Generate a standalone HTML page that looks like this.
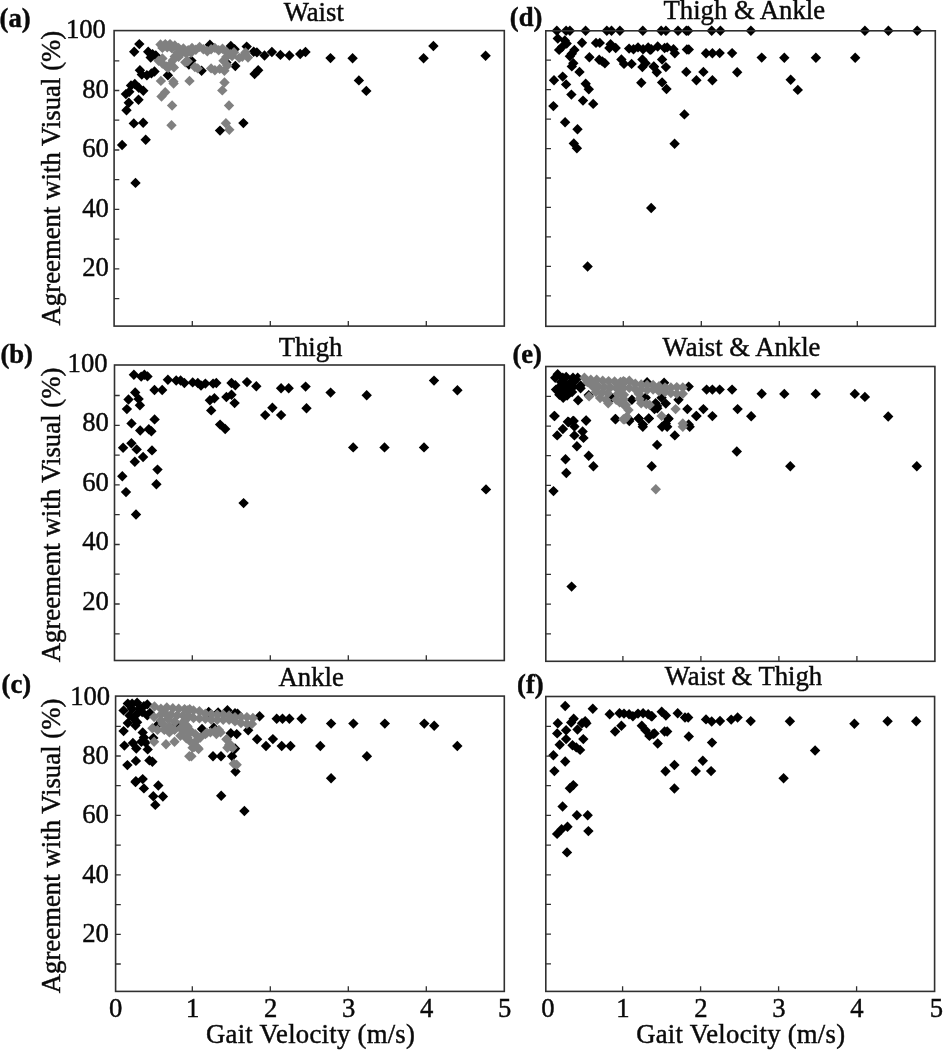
<!DOCTYPE html><html><head><meta charset="utf-8"><title>Agreement with Visual vs Gait Velocity</title>
<style>html,body{margin:0;padding:0;background:#fff}svg{display:block;filter:blur(0.45px)}text{font-family:"Liberation Serif",serif;font-size:26.67px;fill:#0a0a0a;stroke:#0a0a0a;stroke-width:0.45px}</style></head><body>
<svg width="943" height="1050" viewBox="0 0 943 1050">
<rect width="943" height="1050" fill="#fff"/>
<g id="panel-a">
<g><path d="M122.1 139.8L127.3 145.0L122.1 150.2L116.9 145.0z" fill="#000"/><path d="M145.7 134.5L150.9 139.7L145.7 144.9L140.5 139.7z" fill="#000"/><path d="M133.8 118.2L139.0 123.4L133.8 128.6L128.6 123.4z" fill="#000"/><path d="M143.2 117.6L148.4 122.8L143.2 128.0L138.0 122.8z" fill="#000"/><path d="M126.5 105.1L131.7 110.3L126.5 115.5L121.3 110.3z" fill="#000"/><path d="M128.8 97.6L134.0 102.8L128.8 108.0L123.6 102.8z" fill="#000"/><path d="M138.5 94.5L143.7 99.7L138.5 104.9L133.3 99.7z" fill="#000"/><path d="M125.9 88.9L131.1 94.1L125.9 99.3L120.7 94.1z" fill="#000"/><path d="M129.3 86.6L134.5 91.8L129.3 97.0L124.1 91.8z" fill="#000"/><path d="M131.0 80.3L136.2 85.5L131.0 90.7L125.8 85.5z" fill="#000"/><path d="M134.8 78.8L140.0 84.0L134.8 89.2L129.6 84.0z" fill="#000"/><path d="M138.8 82.6L144.0 87.8L138.8 93.0L133.6 87.8z" fill="#000"/><path d="M143.3 85.5L148.5 90.7L143.3 95.9L138.1 90.7z" fill="#000"/><path d="M139.9 65.0L145.1 70.2L139.9 75.4L134.7 70.2z" fill="#000"/><path d="M141.8 69.4L147.0 74.6L141.8 79.8L136.6 74.6z" fill="#000"/><path d="M146.9 70.1L152.1 75.3L146.9 80.5L141.7 75.3z" fill="#000"/><path d="M151.4 68.2L156.6 73.4L151.4 78.6L146.2 73.4z" fill="#000"/><path d="M154.5 66.3L159.7 71.5L154.5 76.7L149.3 71.5z" fill="#000"/><path d="M139.3 38.9L144.5 44.1L139.3 49.3L134.1 44.1z" fill="#000"/><path d="M134.2 46.5L139.4 51.7L134.2 56.9L129.0 51.7z" fill="#000"/><path d="M148.2 46.5L153.4 51.7L148.2 56.9L143.0 51.7z" fill="#000"/><path d="M152.6 49.1L157.8 54.3L152.6 59.5L147.4 54.3z" fill="#000"/><path d="M150.7 52.3L155.9 57.5L150.7 62.7L145.5 57.5z" fill="#000"/><path d="M155.8 50.3L161.0 55.5L155.8 60.7L150.6 55.5z" fill="#000"/><path d="M167.9 70.1L173.1 75.3L167.9 80.5L162.7 75.3z" fill="#000"/><path d="M191.4 55.4L196.6 60.6L191.4 65.8L186.2 60.6z" fill="#000"/><path d="M188.9 59.3L194.1 64.5L188.9 69.7L183.7 64.5z" fill="#000"/><path d="M201.6 65.6L206.8 70.8L201.6 76.0L196.4 70.8z" fill="#000"/><path d="M209.9 39.5L215.1 44.7L209.9 49.9L204.7 44.7z" fill="#000"/><path d="M230.8 40.8L236.0 46.0L230.8 51.2L225.6 46.0z" fill="#000"/><path d="M234.6 44.0L239.8 49.2L234.6 54.4L229.4 49.2z" fill="#000"/><path d="M246.7 41.4L251.9 46.6L246.7 51.8L241.5 46.6z" fill="#000"/><path d="M253.7 46.5L258.9 51.7L253.7 56.9L248.5 51.7z" fill="#000"/><path d="M256.9 47.2L262.1 52.4L256.9 57.6L251.7 52.4z" fill="#000"/><path d="M264.5 50.3L269.7 55.5L264.5 60.7L259.3 55.5z" fill="#000"/><path d="M271.9 46.8L277.1 52.0L271.9 57.2L266.7 52.0z" fill="#000"/><path d="M280.4 49.7L285.6 54.9L280.4 60.1L275.2 54.9z" fill="#000"/><path d="M289.4 50.3L294.6 55.5L289.4 60.7L284.2 55.5z" fill="#000"/><path d="M300.2 48.8L305.4 54.0L300.2 59.2L295.0 54.0z" fill="#000"/><path d="M305.5 46.8L310.7 52.0L305.5 57.2L300.3 52.0z" fill="#000"/><path d="M330.5 52.9L335.7 58.1L330.5 63.3L325.3 58.1z" fill="#000"/><path d="M235.3 60.8L240.5 66.0L235.3 71.2L230.1 66.0z" fill="#000"/><path d="M258.2 65.0L263.4 70.2L258.2 75.4L253.0 70.2z" fill="#000"/><path d="M254.6 68.8L259.8 74.0L254.6 79.2L249.4 74.0z" fill="#000"/><path d="M226.4 57.3L231.6 62.5L226.4 67.7L221.2 62.5z" fill="#000"/><path d="M135.5 177.7L140.7 182.9L135.5 188.1L130.3 182.9z" fill="#000"/><path d="M220.0 125.4L225.2 130.6L220.0 135.8L214.8 130.6z" fill="#000"/><path d="M243.4 117.9L248.6 123.1L243.4 128.3L238.2 123.1z" fill="#000"/><path d="M352.6 53.0L357.8 58.2L352.6 63.4L347.4 58.2z" fill="#000"/><path d="M358.9 75.2L364.1 80.4L358.9 85.6L353.7 80.4z" fill="#000"/><path d="M366.3 85.7L371.5 90.9L366.3 96.1L361.1 90.9z" fill="#000"/><path d="M423.6 53.0L428.8 58.2L423.6 63.4L418.4 58.2z" fill="#000"/><path d="M433.4 40.8L438.6 46.0L433.4 51.2L428.2 46.0z" fill="#000"/><path d="M485.6 50.6L490.8 55.8L485.6 61.0L480.4 55.8z" fill="#000"/></g>
<g><path d="M160.9 75.7L166.1 80.9L160.9 86.1L155.7 80.9z" fill="#808080"/><path d="M173.3 76.3L178.5 81.5L173.3 86.7L168.1 81.5z" fill="#808080"/><path d="M173.6 78.3L178.8 83.5L173.6 88.7L168.4 83.5z" fill="#808080"/><path d="M189.5 75.7L194.7 80.9L189.5 86.1L184.3 80.9z" fill="#808080"/><path d="M224.5 77.3L229.7 82.5L224.5 87.7L219.3 82.5z" fill="#808080"/><path d="M222.3 85.2L227.5 90.4L222.3 95.6L217.1 90.4z" fill="#808080"/><path d="M165.2 87.1L170.4 92.3L165.2 97.5L160.0 92.3z" fill="#808080"/><path d="M161.5 91.3L166.7 96.5L161.5 101.7L156.3 96.5z" fill="#808080"/><path d="M172.1 100.3L177.3 105.5L172.1 110.7L166.9 105.5z" fill="#808080"/><path d="M229.0 100.3L234.2 105.5L229.0 110.7L223.8 105.5z" fill="#808080"/><path d="M171.5 120.0L176.7 125.2L171.5 130.4L166.3 125.2z" fill="#808080"/><path d="M225.9 118.0L231.1 123.2L225.9 128.4L220.7 123.2z" fill="#808080"/><path d="M229.3 124.6L234.5 129.8L229.3 135.0L224.1 129.8z" fill="#808080"/><path d="M242.3 51.6L247.5 56.8L242.3 62.0L237.1 56.8z" fill="#808080"/><path d="M245.5 47.2L250.7 52.4L245.5 57.6L240.3 52.4z" fill="#808080"/><path d="M248.0 52.3L253.2 57.5L248.0 62.7L242.8 57.5z" fill="#808080"/><path d="M160.5 39.3L165.7 44.5L160.5 49.7L155.3 44.5z" fill="#808080"/><path d="M165.3 38.9L170.5 44.1L165.3 49.3L160.1 44.1z" fill="#808080"/><path d="M170.0 38.9L175.2 44.1L170.0 49.3L164.8 44.1z" fill="#808080"/><path d="M174.8 40.3L180.0 45.5L174.8 50.7L169.6 45.5z" fill="#808080"/><path d="M178.6 42.7L183.8 47.9L178.6 53.1L173.4 47.9z" fill="#808080"/><path d="M177.7 47.5L182.9 52.7L177.7 57.9L172.5 52.7z" fill="#808080"/><path d="M174.8 51.3L180.0 56.5L174.8 61.7L169.6 56.5z" fill="#808080"/><path d="M172.9 55.1L178.1 60.3L172.9 65.5L167.7 60.3z" fill="#808080"/><path d="M170.5 58.9L175.7 64.1L170.5 69.3L165.3 64.1z" fill="#808080"/><path d="M168.1 62.7L173.3 67.9L168.1 73.1L162.9 67.9z" fill="#808080"/><path d="M173.9 62.2L179.1 67.4L173.9 72.6L168.7 67.4z" fill="#808080"/><path d="M158.6 55.6L163.8 60.8L158.6 66.0L153.4 60.8z" fill="#808080"/><path d="M162.4 53.2L167.6 58.4L162.4 63.6L157.2 58.4z" fill="#808080"/><path d="M162.4 58.4L167.6 63.6L162.4 68.8L157.2 63.6z" fill="#808080"/><path d="M166.2 61.3L171.4 66.5L166.2 71.7L161.0 66.5z" fill="#808080"/><path d="M178.6 51.7L183.8 56.9L178.6 62.1L173.4 56.9z" fill="#808080"/><path d="M183.4 43.2L188.6 48.4L183.4 53.6L178.2 48.4z" fill="#808080"/><path d="M188.2 45.1L193.4 50.3L188.2 55.5L183.0 50.3z" fill="#808080"/><path d="M192.0 42.7L197.2 47.9L192.0 53.1L186.8 47.9z" fill="#808080"/><path d="M195.8 44.6L201.0 49.8L195.8 55.0L190.6 49.8z" fill="#808080"/><path d="M199.6 41.7L204.8 46.9L199.6 52.1L194.4 46.9z" fill="#808080"/><path d="M203.4 44.1L208.6 49.3L203.4 54.5L198.2 49.3z" fill="#808080"/><path d="M207.3 46.0L212.5 51.2L207.3 56.4L202.1 51.2z" fill="#808080"/><path d="M211.1 44.1L216.3 49.3L211.1 54.5L205.9 49.3z" fill="#808080"/><path d="M214.9 42.7L220.1 47.9L214.9 53.1L209.7 47.9z" fill="#808080"/><path d="M218.7 45.1L223.9 50.3L218.7 55.5L213.5 50.3z" fill="#808080"/><path d="M222.5 43.6L227.7 48.8L222.5 54.0L217.3 48.8z" fill="#808080"/><path d="M226.3 46.5L231.5 51.7L226.3 56.9L221.1 51.7z" fill="#808080"/><path d="M230.2 48.9L235.4 54.1L230.2 59.3L225.0 54.1z" fill="#808080"/><path d="M234.0 47.0L239.2 52.2L234.0 57.4L228.8 52.2z" fill="#808080"/><path d="M182.4 47.0L187.6 52.2L182.4 57.4L177.2 52.2z" fill="#808080"/><path d="M186.3 48.4L191.5 53.6L186.3 58.8L181.1 53.6z" fill="#808080"/><path d="M191.0 47.5L196.2 52.7L191.0 57.9L185.8 52.7z" fill="#808080"/><path d="M226.3 51.7L231.5 56.9L226.3 62.1L221.1 56.9z" fill="#808080"/><path d="M232.1 50.8L237.3 56.0L232.1 61.2L226.9 56.0z" fill="#808080"/><path d="M185.3 57.0L190.5 62.2L185.3 67.4L180.1 62.2z" fill="#808080"/><path d="M194.8 61.8L200.0 67.0L194.8 72.2L189.6 67.0z" fill="#808080"/><path d="M197.7 63.2L202.9 68.4L197.7 73.6L192.5 68.4z" fill="#808080"/><path d="M211.1 63.2L216.3 68.4L211.1 73.6L205.9 68.4z" fill="#808080"/><path d="M214.9 65.1L220.1 70.3L214.9 75.5L209.7 70.3z" fill="#808080"/><path d="M219.7 63.7L224.9 68.9L219.7 74.1L214.5 68.9z" fill="#808080"/><path d="M224.4 65.6L229.6 70.8L224.4 76.0L219.2 70.8z" fill="#808080"/><path d="M227.3 60.3L232.5 65.5L227.3 70.7L222.1 65.5z" fill="#808080"/><path d="M239.2 52.7L244.4 57.9L239.2 63.1L234.0 57.9z" fill="#808080"/><path d="M162.4 42.7L167.6 47.9L162.4 53.1L157.2 47.9z" fill="#808080"/><path d="M167.2 42.2L172.4 47.4L167.2 52.6L162.0 47.4z" fill="#808080"/><path d="M171.9 43.2L177.1 48.4L171.9 53.6L166.7 48.4z" fill="#808080"/><path d="M187.7 56.0L192.9 61.2L187.7 66.4L182.5 61.2z" fill="#808080"/><path d="M223.5 55.6L228.7 60.8L223.5 66.0L218.3 60.8z" fill="#808080"/></g>
<rect x="114.1" y="30.6" width="390.2" height="295.5" fill="none" stroke="#303030" stroke-width="1.6"/>
<path d="M114.1 60.8h5.2M114.1 90.5h5.2M114.1 120.2h5.2M114.1 150.0h5.2M114.1 179.7h5.2M114.1 209.4h5.2M114.1 239.2h5.2M114.1 268.9h5.2M114.1 298.7h5.2M192.3 326.1v-5.2M270.3 326.1v-5.2M348.3 326.1v-5.2M426.3 326.1v-5.2" stroke="#303030" stroke-width="1.3" fill="none"/>
<text x="313.8" y="21.4" text-anchor="middle">Waist</text>
<text x="-0.5" y="26.7" font-weight="bold">(a)</text>
<text x="105.9" y="38.3" text-anchor="end">100</text>
<text x="108.8" y="97.8" text-anchor="end">80</text>
<text x="108.8" y="157.3" text-anchor="end">60</text>
<text x="108.8" y="216.8" text-anchor="end">40</text>
<text x="108.8" y="276.2" text-anchor="end">20</text>
<text transform="translate(59.6 178.1) rotate(-90)" text-anchor="middle" letter-spacing="0.06">Agreement with Visual (%)</text>
</g>
<g id="panel-b">
<g><path d="M133.9 369.5L139.1 374.7L133.9 379.9L128.7 374.7z" fill="#000"/><path d="M141.2 371.4L146.4 376.6L141.2 381.8L136.0 376.6z" fill="#000"/><path d="M144.4 369.5L149.6 374.7L144.4 379.9L139.2 374.7z" fill="#000"/><path d="M147.5 371.2L152.7 376.4L147.5 381.6L142.3 376.4z" fill="#000"/><path d="M167.9 374.6L173.1 379.8L167.9 385.0L162.7 379.8z" fill="#000"/><path d="M176.2 375.3L181.4 380.5L176.2 385.7L171.0 380.5z" fill="#000"/><path d="M180.6 375.3L185.8 380.5L180.6 385.7L175.4 380.5z" fill="#000"/><path d="M184.4 377.8L189.6 383.0L184.4 388.2L179.2 383.0z" fill="#000"/><path d="M192.7 377.2L197.9 382.4L192.7 387.6L187.5 382.4z" fill="#000"/><path d="M197.8 377.8L203.0 383.0L197.8 388.2L192.6 383.0z" fill="#000"/><path d="M201.0 380.3L206.2 385.5L201.0 390.7L195.8 385.5z" fill="#000"/><path d="M205.4 378.4L210.6 383.6L205.4 388.8L200.2 383.6z" fill="#000"/><path d="M213.1 378.4L218.3 383.6L213.1 388.8L207.9 383.6z" fill="#000"/><path d="M216.3 377.8L221.5 383.0L216.3 388.2L211.1 383.0z" fill="#000"/><path d="M154.5 384.8L159.7 390.0L154.5 395.2L149.3 390.0z" fill="#000"/><path d="M162.2 384.8L167.4 390.0L162.2 395.2L157.0 390.0z" fill="#000"/><path d="M135.2 387.3L140.4 392.5L135.2 397.7L130.0 392.5z" fill="#000"/><path d="M128.5 394.3L133.7 399.5L128.5 404.7L123.3 399.5z" fill="#000"/><path d="M138.6 393.7L143.8 398.9L138.6 404.1L133.4 398.9z" fill="#000"/><path d="M139.9 400.1L145.1 405.3L139.9 410.5L134.7 405.3z" fill="#000"/><path d="M126.9 403.9L132.1 409.1L126.9 414.3L121.7 409.1z" fill="#000"/><path d="M154.6 414.2L159.8 419.4L154.6 424.6L149.4 419.4z" fill="#000"/><path d="M131.5 418.2L136.7 423.4L131.5 428.6L126.3 423.4z" fill="#000"/><path d="M214.4 393.1L219.6 398.3L214.4 403.5L209.2 398.3z" fill="#000"/><path d="M209.9 395.0L215.1 400.2L209.9 405.4L204.7 400.2z" fill="#000"/><path d="M211.2 405.2L216.4 410.4L211.2 415.6L206.0 410.4z" fill="#000"/><path d="M226.4 391.8L231.6 397.0L226.4 402.2L221.2 397.0z" fill="#000"/><path d="M220.1 419.4L225.3 424.6L220.1 429.8L214.9 424.6z" fill="#000"/><path d="M140.2 425.3L145.4 430.5L140.2 435.7L135.0 430.5z" fill="#000"/><path d="M148.8 424.1L154.0 429.3L148.8 434.5L143.6 429.3z" fill="#000"/><path d="M151.4 426.1L156.6 431.3L151.4 436.5L146.2 431.3z" fill="#000"/><path d="M131.4 438.1L136.6 443.3L131.4 448.5L126.2 443.3z" fill="#000"/><path d="M123.1 442.6L128.3 447.8L123.1 453.0L117.9 447.8z" fill="#000"/><path d="M136.7 444.2L141.9 449.4L136.7 454.6L131.5 449.4z" fill="#000"/><path d="M152.0 445.2L157.2 450.4L152.0 455.6L146.8 450.4z" fill="#000"/><path d="M143.1 451.8L148.3 457.0L143.1 462.2L137.9 457.0z" fill="#000"/><path d="M134.8 456.6L140.0 461.8L134.8 467.0L129.6 461.8z" fill="#000"/><path d="M157.5 464.4L162.7 469.6L157.5 474.8L152.3 469.6z" fill="#000"/><path d="M122.3 471.1L127.5 476.3L122.3 481.5L117.1 476.3z" fill="#000"/><path d="M156.4 479.1L161.6 484.3L156.4 489.5L151.2 484.3z" fill="#000"/><path d="M225.2 423.8L230.4 429.0L225.2 434.2L220.0 429.0z" fill="#000"/><path d="M126.0 486.9L131.2 492.1L126.0 497.3L120.8 492.1z" fill="#000"/><path d="M136.0 509.3L141.2 514.5L136.0 519.7L130.8 514.5z" fill="#000"/><path d="M243.6 497.9L248.8 503.1L243.6 508.3L238.4 503.1z" fill="#000"/><path d="M231.5 377.8L236.7 383.0L231.5 388.2L226.3 383.0z" fill="#000"/><path d="M235.3 380.1L240.5 385.3L235.3 390.5L230.1 385.3z" fill="#000"/><path d="M247.0 376.9L252.2 382.1L247.0 387.3L241.8 382.1z" fill="#000"/><path d="M256.3 381.0L261.5 386.2L256.3 391.4L251.1 386.2z" fill="#000"/><path d="M281.1 383.1L286.3 388.3L281.1 393.5L275.9 388.3z" fill="#000"/><path d="M288.7 383.1L293.9 388.3L288.7 393.5L283.5 388.3z" fill="#000"/><path d="M305.6 381.4L310.8 386.6L305.6 391.8L300.4 386.6z" fill="#000"/><path d="M330.6 387.4L335.8 392.6L330.6 397.8L325.4 392.6z" fill="#000"/><path d="M231.5 389.5L236.7 394.7L231.5 399.9L226.3 394.7z" fill="#000"/><path d="M234.6 397.9L239.8 403.1L234.6 408.3L229.4 403.1z" fill="#000"/><path d="M272.4 402.6L277.6 407.8L272.4 413.0L267.2 407.8z" fill="#000"/><path d="M265.2 409.9L270.4 415.1L265.2 420.3L260.0 415.1z" fill="#000"/><path d="M281.1 409.9L286.3 415.1L281.1 420.3L275.9 415.1z" fill="#000"/><path d="M306.5 403.0L311.7 408.2L306.5 413.4L301.3 408.2z" fill="#000"/><path d="M366.7 390.1L371.9 395.3L366.7 400.5L361.5 395.3z" fill="#000"/><path d="M434.0 375.4L439.2 380.6L434.0 385.8L428.8 380.6z" fill="#000"/><path d="M457.4 385.1L462.6 390.3L457.4 395.5L452.2 390.3z" fill="#000"/><path d="M353.2 442.2L358.4 447.4L353.2 452.6L348.0 447.4z" fill="#000"/><path d="M384.5 442.2L389.7 447.4L384.5 452.6L379.3 447.4z" fill="#000"/><path d="M424.0 442.2L429.2 447.4L424.0 452.6L418.8 447.4z" fill="#000"/><path d="M486.0 484.2L491.2 489.4L486.0 494.6L480.8 489.4z" fill="#000"/></g>
<rect x="114.5" y="365.0" width="389.8" height="295.5" fill="none" stroke="#303030" stroke-width="1.6"/>
<path d="M114.5 395.5h5.2M114.5 425.3h5.2M114.5 455.1h5.2M114.5 484.9h5.2M114.5 514.7h5.2M114.5 544.5h5.2M114.5 574.2h5.2M114.5 604.0h5.2M114.5 633.8h5.2M192.3 660.5v-5.2M270.3 660.5v-5.2M348.3 660.5v-5.2M426.3 660.5v-5.2" stroke="#303030" stroke-width="1.3" fill="none"/>
<text x="310.5" y="356.1" text-anchor="middle">Thigh</text>
<text x="0.4" y="362.6" font-weight="bold">(b)</text>
<text x="107.6" y="371.5" text-anchor="end">100</text>
<text x="108.8" y="431.0" text-anchor="end">80</text>
<text x="108.8" y="490.6" text-anchor="end">60</text>
<text x="108.8" y="550.2" text-anchor="end">40</text>
<text x="108.8" y="609.8" text-anchor="end">20</text>
<text transform="translate(59.6 514.9) rotate(-90)" text-anchor="middle" letter-spacing="0.06">Agreement with Visual (%)</text>
</g>
<g id="panel-c">
<g><path d="M127.8 698.4L133.0 703.6L127.8 708.8L122.6 703.6z" fill="#000"/><path d="M137.1 697.5L142.3 702.7L137.1 707.9L131.9 702.7z" fill="#000"/><path d="M123.6 705.2L128.8 710.4L123.6 715.6L118.4 710.4z" fill="#000"/><path d="M132.1 703.5L137.3 708.7L132.1 713.9L126.9 708.7z" fill="#000"/><path d="M139.7 703.5L144.9 708.7L139.7 713.9L134.5 708.7z" fill="#000"/><path d="M143.9 700.9L149.1 706.1L143.9 711.3L138.7 706.1z" fill="#000"/><path d="M147.3 699.2L152.5 704.4L147.3 709.6L142.1 704.4z" fill="#000"/><path d="M129.5 710.2L134.7 715.4L129.5 720.6L124.3 715.4z" fill="#000"/><path d="M137.1 708.5L142.3 713.7L137.1 718.9L131.9 713.7z" fill="#000"/><path d="M147.3 710.2L152.5 715.4L147.3 720.6L142.1 715.4z" fill="#000"/><path d="M149.9 707.7L155.1 712.9L149.9 718.1L144.7 712.9z" fill="#000"/><path d="M127.8 717.9L133.0 723.1L127.8 728.3L122.6 723.1z" fill="#000"/><path d="M135.4 720.4L140.6 725.6L135.4 730.8L130.2 725.6z" fill="#000"/><path d="M137.1 717.0L142.3 722.2L137.1 727.4L131.9 722.2z" fill="#000"/><path d="M123.6 725.9L128.8 731.1L123.6 736.3L118.4 731.1z" fill="#000"/><path d="M157.9 719.6L163.1 724.8L157.9 730.0L152.7 724.8z" fill="#000"/><path d="M176.6 719.6L181.8 724.8L176.6 730.0L171.4 724.8z" fill="#000"/><path d="M142.7 727.2L147.9 732.4L142.7 737.6L137.5 732.4z" fill="#000"/><path d="M143.9 732.3L149.1 737.5L143.9 742.7L138.7 737.5z" fill="#000"/><path d="M153.3 732.7L158.5 737.9L153.3 743.1L148.1 737.9z" fill="#000"/><path d="M132.9 737.8L138.1 743.0L132.9 748.2L127.7 743.0z" fill="#000"/><path d="M141.4 736.5L146.6 741.7L141.4 746.9L136.2 741.7z" fill="#000"/><path d="M145.6 737.4L150.8 742.6L145.6 747.8L140.4 742.6z" fill="#000"/><path d="M124.4 740.4L129.6 745.6L124.4 750.8L119.2 745.6z" fill="#000"/><path d="M136.3 743.3L141.5 748.5L136.3 753.7L131.1 748.5z" fill="#000"/><path d="M147.7 744.2L152.9 749.4L147.7 754.6L142.5 749.4z" fill="#000"/><path d="M132.1 698.4L137.3 703.6L132.1 708.8L126.9 703.6z" fill="#000"/><path d="M142.2 706.9L147.4 712.1L142.2 717.3L137.0 712.1z" fill="#000"/><path d="M133.7 713.6L138.9 718.8L133.7 724.0L128.5 718.8z" fill="#000"/><path d="M208.7 706.8L213.9 712.0L208.7 717.2L203.5 712.0z" fill="#000"/><path d="M218.1 707.2L223.3 712.4L218.1 717.6L212.9 712.4z" fill="#000"/><path d="M227.4 705.1L232.6 710.3L227.4 715.5L222.2 710.3z" fill="#000"/><path d="M235.0 708.0L240.2 713.2L235.0 718.4L229.8 713.2z" fill="#000"/><path d="M237.6 708.5L242.8 713.7L237.6 718.9L232.4 713.7z" fill="#000"/><path d="M259.6 711.1L264.8 716.3L259.6 721.5L254.4 716.3z" fill="#000"/><path d="M202.0 723.8L207.2 729.0L202.0 734.2L196.8 729.0z" fill="#000"/><path d="M213.8 722.5L219.0 727.7L213.8 732.9L208.6 727.7z" fill="#000"/><path d="M230.8 728.1L236.0 733.3L230.8 738.5L225.6 733.3z" fill="#000"/><path d="M236.7 728.9L241.9 734.1L236.7 739.3L231.5 734.1z" fill="#000"/><path d="M248.2 725.1L253.4 730.3L248.2 735.5L243.0 730.3z" fill="#000"/><path d="M257.1 734.0L262.3 739.2L257.1 744.4L251.9 739.2z" fill="#000"/><path d="M235.0 743.3L240.2 748.5L235.0 753.7L229.8 748.5z" fill="#000"/><path d="M135.9 755.7L141.1 760.9L135.9 766.1L130.7 760.9z" fill="#000"/><path d="M127.4 759.9L132.6 765.1L127.4 770.3L122.2 765.1z" fill="#000"/><path d="M149.4 755.2L154.6 760.4L149.4 765.6L144.2 760.4z" fill="#000"/><path d="M152.4 756.5L157.6 761.7L152.4 766.9L147.2 761.7z" fill="#000"/><path d="M135.9 776.0L141.1 781.2L135.9 786.4L130.7 781.2z" fill="#000"/><path d="M142.7 773.9L147.9 779.1L142.7 784.3L137.5 779.1z" fill="#000"/><path d="M143.9 783.2L149.1 788.4L143.9 793.6L138.7 788.4z" fill="#000"/><path d="M158.3 780.3L163.5 785.5L158.3 790.7L153.1 785.5z" fill="#000"/><path d="M153.3 791.1L158.5 796.3L153.3 801.5L148.1 796.3z" fill="#000"/><path d="M213.0 751.0L218.2 756.2L213.0 761.4L207.8 756.2z" fill="#000"/><path d="M221.0 751.0L226.2 756.2L221.0 761.4L215.8 756.2z" fill="#000"/><path d="M232.1 751.0L237.3 756.2L232.1 761.4L226.9 756.2z" fill="#000"/><path d="M234.2 744.2L239.4 749.4L234.2 754.6L229.0 749.4z" fill="#000"/><path d="M235.5 766.3L240.7 771.5L235.5 776.7L230.3 771.5z" fill="#000"/><path d="M221.2 790.6L226.4 795.8L221.2 801.0L216.0 795.8z" fill="#000"/><path d="M135.5 776.8L140.7 782.0L135.5 787.2L130.3 782.0z" fill="#000"/><path d="M155.3 799.7L160.5 804.9L155.3 810.1L150.1 804.9z" fill="#000"/><path d="M162.9 791.3L168.1 796.5L162.9 801.7L157.7 796.5z" fill="#000"/><path d="M244.4 805.8L249.6 811.0L244.4 816.2L239.2 811.0z" fill="#000"/><path d="M276.7 713.5L281.9 718.7L276.7 723.9L271.5 718.7z" fill="#000"/><path d="M282.5 713.5L287.7 718.7L282.5 723.9L277.3 718.7z" fill="#000"/><path d="M289.4 713.5L294.6 718.7L289.4 723.9L284.2 718.7z" fill="#000"/><path d="M301.6 713.5L306.8 718.7L301.6 723.9L296.4 718.7z" fill="#000"/><path d="M331.1 718.4L336.3 723.6L331.1 728.8L325.9 723.6z" fill="#000"/><path d="M353.4 718.4L358.6 723.6L353.4 728.8L348.2 723.6z" fill="#000"/><path d="M384.8 718.4L390.0 723.6L384.8 728.8L379.6 723.6z" fill="#000"/><path d="M424.3 718.4L429.5 723.6L424.3 728.8L419.1 723.6z" fill="#000"/><path d="M434.2 720.6L439.4 725.8L434.2 731.0L429.0 725.8z" fill="#000"/><path d="M457.3 740.8L462.5 746.0L457.3 751.2L452.1 746.0z" fill="#000"/><path d="M266.0 740.8L271.2 746.0L266.0 751.2L260.8 746.0z" fill="#000"/><path d="M272.9 733.9L278.1 739.1L272.9 744.3L267.7 739.1z" fill="#000"/><path d="M281.7 740.8L286.9 746.0L281.7 751.2L276.5 746.0z" fill="#000"/><path d="M290.5 740.8L295.7 746.0L290.5 751.2L285.3 746.0z" fill="#000"/><path d="M320.3 740.8L325.5 746.0L320.3 751.2L315.1 746.0z" fill="#000"/><path d="M366.9 751.0L372.1 756.2L366.9 761.4L361.7 756.2z" fill="#000"/><path d="M331.1 773.0L336.3 778.2L331.1 783.4L325.9 778.2z" fill="#000"/></g>
<g><path d="M154.5 701.3L159.7 706.5L154.5 711.7L149.3 706.5z" fill="#808080"/><path d="M160.9 703.5L166.1 708.7L160.9 713.9L155.7 708.7z" fill="#808080"/><path d="M166.8 702.2L172.0 707.4L166.8 712.6L161.6 707.4z" fill="#808080"/><path d="M172.8 703.0L178.0 708.2L172.8 713.4L167.6 708.2z" fill="#808080"/><path d="M178.7 703.5L183.9 708.7L178.7 713.9L173.5 708.7z" fill="#808080"/><path d="M184.6 703.9L189.8 709.1L184.6 714.3L179.4 709.1z" fill="#808080"/><path d="M189.7 703.9L194.9 709.1L189.7 714.3L184.5 709.1z" fill="#808080"/><path d="M154.1 711.9L159.3 717.1L154.1 722.3L148.9 717.1z" fill="#808080"/><path d="M160.9 709.4L166.1 714.6L160.9 719.8L155.7 714.6z" fill="#808080"/><path d="M165.1 707.7L170.3 712.9L165.1 718.1L159.9 712.9z" fill="#808080"/><path d="M171.1 709.4L176.3 714.6L171.1 719.8L165.9 714.6z" fill="#808080"/><path d="M177.0 710.2L182.2 715.4L177.0 720.6L171.8 715.4z" fill="#808080"/><path d="M182.9 710.2L188.1 715.4L182.9 720.6L177.7 715.4z" fill="#808080"/><path d="M188.9 711.1L194.1 716.3L188.9 721.5L183.7 716.3z" fill="#808080"/><path d="M152.4 723.0L157.6 728.2L152.4 733.4L147.2 728.2z" fill="#808080"/><path d="M157.5 724.7L162.7 729.9L157.5 735.1L152.3 729.9z" fill="#808080"/><path d="M162.6 718.7L167.8 723.9L162.6 729.1L157.4 723.9z" fill="#808080"/><path d="M164.3 724.7L169.5 729.9L164.3 735.1L159.1 729.9z" fill="#808080"/><path d="M169.4 721.3L174.6 726.5L169.4 731.7L164.2 726.5z" fill="#808080"/><path d="M174.5 724.7L179.7 729.9L174.5 735.1L169.3 729.9z" fill="#808080"/><path d="M180.4 723.0L185.6 728.2L180.4 733.4L175.2 728.2z" fill="#808080"/><path d="M186.3 720.4L191.5 725.6L186.3 730.8L181.1 725.6z" fill="#808080"/><path d="M189.7 724.7L194.9 729.9L189.7 735.1L184.5 729.9z" fill="#808080"/><path d="M154.1 736.5L159.3 741.7L154.1 746.9L148.9 741.7z" fill="#808080"/><path d="M166.0 739.1L171.2 744.3L166.0 749.5L160.8 744.3z" fill="#808080"/><path d="M174.5 736.5L179.7 741.7L174.5 746.9L169.3 741.7z" fill="#808080"/><path d="M180.4 730.6L185.6 735.8L180.4 741.0L175.2 735.8z" fill="#808080"/><path d="M186.3 733.1L191.5 738.3L186.3 743.5L181.1 738.3z" fill="#808080"/><path d="M189.7 735.7L194.9 740.9L189.7 746.1L184.5 740.9z" fill="#808080"/><path d="M169.4 727.2L174.6 732.4L169.4 737.6L164.2 732.4z" fill="#808080"/><path d="M160.9 715.3L166.1 720.5L160.9 725.7L155.7 720.5z" fill="#808080"/><path d="M182.9 717.0L188.1 722.2L182.9 727.4L177.7 722.2z" fill="#808080"/><path d="M174.5 716.2L179.7 721.4L174.5 726.6L169.3 721.4z" fill="#808080"/><path d="M187.5 705.2L192.7 710.4L187.5 715.6L182.3 710.4z" fill="#808080"/><path d="M193.5 705.2L198.7 710.4L193.5 715.6L188.3 710.4z" fill="#808080"/><path d="M199.4 706.0L204.6 711.2L199.4 716.4L194.2 711.2z" fill="#808080"/><path d="M205.4 708.5L210.6 713.7L205.4 718.9L200.2 713.7z" fill="#808080"/><path d="M211.3 709.0L216.5 714.2L211.3 719.4L206.1 714.2z" fill="#808080"/><path d="M217.2 709.4L222.4 714.6L217.2 719.8L212.0 714.6z" fill="#808080"/><path d="M223.2 709.4L228.4 714.6L223.2 719.8L218.0 714.6z" fill="#808080"/><path d="M229.1 710.2L234.3 715.4L229.1 720.6L223.9 715.4z" fill="#808080"/><path d="M235.0 711.9L240.2 717.1L235.0 722.3L229.8 717.1z" fill="#808080"/><path d="M241.0 711.9L246.2 717.1L241.0 722.3L235.8 717.1z" fill="#808080"/><path d="M246.9 711.9L252.1 717.1L246.9 722.3L241.7 717.1z" fill="#808080"/><path d="M252.9 712.8L258.1 718.0L252.9 723.2L247.7 718.0z" fill="#808080"/><path d="M187.5 712.8L192.7 718.0L187.5 723.2L182.3 718.0z" fill="#808080"/><path d="M193.5 712.8L198.7 718.0L193.5 723.2L188.3 718.0z" fill="#808080"/><path d="M199.4 713.2L204.6 718.4L199.4 723.6L194.2 718.4z" fill="#808080"/><path d="M205.4 713.6L210.6 718.8L205.4 724.0L200.2 718.8z" fill="#808080"/><path d="M211.3 714.5L216.5 719.7L211.3 724.9L206.1 719.7z" fill="#808080"/><path d="M235.0 716.2L240.2 721.4L235.0 726.6L229.8 721.4z" fill="#808080"/><path d="M241.0 717.9L246.2 723.1L241.0 728.3L235.8 723.1z" fill="#808080"/><path d="M246.9 718.7L252.1 723.9L246.9 729.1L241.7 723.9z" fill="#808080"/><path d="M252.0 718.7L257.2 723.9L252.0 729.1L246.8 723.9z" fill="#808080"/><path d="M187.5 721.3L192.7 726.5L187.5 731.7L182.3 726.5z" fill="#808080"/><path d="M190.1 727.2L195.3 732.4L190.1 737.6L184.9 732.4z" fill="#808080"/><path d="M195.2 728.9L200.4 734.1L195.2 739.3L190.0 734.1z" fill="#808080"/><path d="M200.3 732.3L205.5 737.5L200.3 742.7L195.1 737.5z" fill="#808080"/><path d="M196.0 735.7L201.2 740.9L196.0 746.1L190.8 740.9z" fill="#808080"/><path d="M192.6 742.5L197.8 747.7L192.6 752.9L187.4 747.7z" fill="#808080"/><path d="M197.7 742.5L202.9 747.7L197.7 752.9L192.5 747.7z" fill="#808080"/><path d="M210.4 727.2L215.6 732.4L210.4 737.6L205.2 732.4z" fill="#808080"/><path d="M216.4 728.9L221.6 734.1L216.4 739.3L211.2 734.1z" fill="#808080"/><path d="M218.9 724.7L224.1 729.9L218.9 735.1L213.7 729.9z" fill="#808080"/><path d="M220.6 727.2L225.8 732.4L220.6 737.6L215.4 732.4z" fill="#808080"/><path d="M226.6 734.0L231.8 739.2L226.6 744.4L221.4 739.2z" fill="#808080"/><path d="M229.1 739.9L234.3 745.1L229.1 750.3L223.9 745.1z" fill="#808080"/><path d="M232.5 742.5L237.7 747.7L232.5 752.9L227.3 747.7z" fill="#808080"/><path d="M217.2 714.5L222.4 719.7L217.2 724.9L212.0 719.7z" fill="#808080"/><path d="M223.2 714.5L228.4 719.7L223.2 724.9L218.0 719.7z" fill="#808080"/><path d="M229.1 714.5L234.3 719.7L229.1 724.9L223.9 719.7z" fill="#808080"/><path d="M187.5 732.3L192.7 737.5L187.5 742.7L182.3 737.5z" fill="#808080"/><path d="M205.4 728.9L210.6 734.1L205.4 739.3L200.2 734.1z" fill="#808080"/><path d="M189.3 751.0L194.5 756.2L189.3 761.4L184.1 756.2z" fill="#808080"/><path d="M194.3 741.7L199.5 746.9L194.3 752.1L189.1 746.9z" fill="#808080"/><path d="M198.6 743.8L203.8 749.0L198.6 754.2L193.4 749.0z" fill="#808080"/><path d="M191.4 751.0L196.6 756.2L191.4 761.4L186.2 756.2z" fill="#808080"/><path d="M226.6 734.0L231.8 739.2L226.6 744.4L221.4 739.2z" fill="#808080"/><path d="M230.0 739.1L235.2 744.3L230.0 749.5L224.8 744.3z" fill="#808080"/><path d="M227.4 742.5L232.6 747.7L227.4 752.9L222.2 747.7z" fill="#808080"/><path d="M233.8 758.6L239.0 763.8L233.8 769.0L228.6 763.8z" fill="#808080"/><path d="M236.7 759.5L241.9 764.7L236.7 769.9L231.5 764.7z" fill="#808080"/><path d="M167.6 713.7L172.8 718.9L167.6 724.1L162.4 718.9z" fill="#808080"/><path d="M175.0 716.9L180.2 722.1L175.0 727.3L169.8 722.1z" fill="#808080"/><path d="M184.5 725.4L189.7 730.6L184.5 735.8L179.3 730.6z" fill="#808080"/><path d="M206.8 727.5L212.0 732.7L206.8 737.9L201.6 732.7z" fill="#808080"/><path d="M215.3 725.4L220.5 730.6L215.3 735.8L210.1 730.6z" fill="#808080"/></g>
<rect x="115.6" y="696.1" width="388.7" height="295.3" fill="none" stroke="#303030" stroke-width="1.6"/>
<path d="M115.6 726.3h5.2M115.6 756.0h5.2M115.6 785.7h5.2M115.6 815.4h5.2M115.6 845.1h5.2M115.6 874.8h5.2M115.6 904.6h5.2M115.6 934.3h5.2M115.6 964.0h5.2M192.3 991.4v-5.2M270.3 991.4v-5.2M348.3 991.4v-5.2M426.3 991.4v-5.2" stroke="#303030" stroke-width="1.3" fill="none"/>
<text x="311.2" y="686.1" text-anchor="middle">Ankle</text>
<text x="1.5" y="692.9" font-weight="bold">(c)</text>
<text x="110.2" y="704.5" text-anchor="end">100</text>
<text x="108.8" y="763.9" text-anchor="end">80</text>
<text x="108.8" y="823.3" text-anchor="end">60</text>
<text x="108.8" y="882.7" text-anchor="end">40</text>
<text x="108.8" y="942.2" text-anchor="end">20</text>
<text transform="translate(59.6 845.9) rotate(-90)" text-anchor="middle" letter-spacing="0.06">Agreement with Visual (%)</text>
<text x="115.6" y="1017.4" text-anchor="middle">0</text>
<text x="192.6" y="1017.4" text-anchor="middle">1</text>
<text x="270.6" y="1017.4" text-anchor="middle">2</text>
<text x="348.6" y="1017.4" text-anchor="middle">3</text>
<text x="426.6" y="1017.4" text-anchor="middle">4</text>
<text x="504.6" y="1017.4" text-anchor="middle">5</text>
<text x="310.6" y="1042.9" text-anchor="middle" letter-spacing="0.28">Gait Velocity (m/s)</text>
</g>
<g id="panel-d">
<g><path d="M556.8 25.6L562.0 30.8L556.8 36.0L551.6 30.8z" fill="#000"/><path d="M566.1 25.6L571.3 30.8L566.1 36.0L560.9 30.8z" fill="#000"/><path d="M569.9 25.6L575.1 30.8L569.9 36.0L564.7 30.8z" fill="#000"/><path d="M585.6 25.6L590.8 30.8L585.6 36.0L580.4 30.8z" fill="#000"/><path d="M606.8 25.6L612.0 30.8L606.8 36.0L601.6 30.8z" fill="#000"/><path d="M611.5 25.6L616.7 30.8L611.5 36.0L606.3 30.8z" fill="#000"/><path d="M619.9 25.6L625.1 30.8L619.9 36.0L614.7 30.8z" fill="#000"/><path d="M642.8 25.6L648.0 30.8L642.8 36.0L637.6 30.8z" fill="#000"/><path d="M661.2 25.6L666.4 30.8L661.2 36.0L656.0 30.8z" fill="#000"/><path d="M665.9 25.6L671.1 30.8L665.9 36.0L660.7 30.8z" fill="#000"/><path d="M678.0 25.6L683.2 30.8L678.0 36.0L672.8 30.8z" fill="#000"/><path d="M686.3 25.6L691.5 30.8L686.3 36.0L681.1 30.8z" fill="#000"/><path d="M688.2 25.6L693.4 30.8L688.2 36.0L683.0 30.8z" fill="#000"/><path d="M711.7 25.6L716.9 30.8L711.7 36.0L706.5 30.8z" fill="#000"/><path d="M720.4 25.6L725.6 30.8L720.4 36.0L715.2 30.8z" fill="#000"/><path d="M750.9 25.6L756.1 30.8L750.9 36.0L745.7 30.8z" fill="#000"/><path d="M864.9 25.6L870.1 30.8L864.9 36.0L859.7 30.8z" fill="#000"/><path d="M888.4 25.6L893.6 30.8L888.4 36.0L883.2 30.8z" fill="#000"/><path d="M917.2 25.6L922.4 30.8L917.2 36.0L912.0 30.8z" fill="#000"/><path d="M557.8 33.3L563.0 38.5L557.8 43.7L552.6 38.5z" fill="#000"/><path d="M564.8 35.2L570.0 40.4L564.8 45.6L559.6 40.4z" fill="#000"/><path d="M566.7 38.3L571.9 43.5L566.7 48.7L561.5 43.5z" fill="#000"/><path d="M562.3 41.5L567.5 46.7L562.3 51.9L557.1 46.7z" fill="#000"/><path d="M559.1 44.7L564.3 49.9L559.1 55.1L553.9 49.9z" fill="#000"/><path d="M582.0 37.5L587.2 42.7L582.0 47.9L576.8 42.7z" fill="#000"/><path d="M596.0 37.7L601.2 42.9L596.0 48.1L590.8 42.9z" fill="#000"/><path d="M599.8 37.7L605.0 42.9L599.8 48.1L594.6 42.9z" fill="#000"/><path d="M610.6 39.0L615.8 44.2L610.6 49.4L605.4 44.2z" fill="#000"/><path d="M609.4 42.8L614.6 48.0L609.4 53.2L604.2 48.0z" fill="#000"/><path d="M615.7 42.8L620.9 48.0L615.7 53.2L610.5 48.0z" fill="#000"/><path d="M574.4 44.7L579.6 49.9L574.4 55.1L569.2 49.9z" fill="#000"/><path d="M571.8 48.5L577.0 53.7L571.8 58.9L566.6 53.7z" fill="#000"/><path d="M569.9 51.1L575.1 56.3L569.9 61.5L564.7 56.3z" fill="#000"/><path d="M629.1 43.4L634.3 48.6L629.1 53.8L623.9 48.6z" fill="#000"/><path d="M633.5 44.1L638.7 49.3L633.5 54.5L628.3 49.3z" fill="#000"/><path d="M638.0 42.2L643.2 47.4L638.0 52.6L632.8 47.4z" fill="#000"/><path d="M643.1 44.1L648.3 49.3L643.1 54.5L637.9 49.3z" fill="#000"/><path d="M648.2 42.2L653.4 47.4L648.2 52.6L643.0 47.4z" fill="#000"/><path d="M650.1 44.7L655.3 49.9L650.1 55.1L644.9 49.9z" fill="#000"/><path d="M657.7 41.3L662.9 46.5L657.7 51.7L652.5 46.5z" fill="#000"/><path d="M589.4 52.1L594.6 57.3L589.4 62.5L584.2 57.3z" fill="#000"/><path d="M599.2 54.5L604.4 59.7L599.2 64.9L594.0 59.7z" fill="#000"/><path d="M604.9 58.1L610.1 63.3L604.9 68.5L599.7 63.3z" fill="#000"/><path d="M602.4 56.2L607.6 61.4L602.4 66.6L597.2 61.4z" fill="#000"/><path d="M621.4 54.3L626.6 59.5L621.4 64.7L616.2 59.5z" fill="#000"/><path d="M624.0 58.7L629.2 63.9L624.0 69.1L618.8 63.9z" fill="#000"/><path d="M631.6 58.7L636.8 63.9L631.6 69.1L626.4 63.9z" fill="#000"/><path d="M642.4 54.3L647.6 59.5L642.4 64.7L637.2 59.5z" fill="#000"/><path d="M645.6 58.1L650.8 63.3L645.6 68.5L640.4 63.3z" fill="#000"/><path d="M642.4 61.9L647.6 67.1L642.4 72.3L637.2 67.1z" fill="#000"/><path d="M653.9 61.6L659.1 66.8L653.9 72.0L648.7 66.8z" fill="#000"/><path d="M656.8 67.0L662.0 72.2L656.8 77.4L651.6 72.2z" fill="#000"/><path d="M573.3 58.1L578.5 63.3L573.3 68.5L568.1 63.3z" fill="#000"/><path d="M571.8 61.2L577.0 66.4L571.8 71.6L566.6 66.4z" fill="#000"/><path d="M579.5 66.7L584.7 71.9L579.5 77.1L574.3 71.9z" fill="#000"/><path d="M554.0 75.1L559.2 80.3L554.0 85.5L548.8 80.3z" fill="#000"/><path d="M562.7 71.4L567.9 76.6L562.7 81.8L557.5 76.6z" fill="#000"/><path d="M566.1 79.2L571.3 84.4L566.1 89.6L560.9 84.4z" fill="#000"/><path d="M585.7 78.6L590.9 83.8L585.7 89.0L580.5 83.8z" fill="#000"/><path d="M588.8 84.1L594.0 89.3L588.8 94.5L583.6 89.3z" fill="#000"/><path d="M641.3 77.6L646.5 82.8L641.3 88.0L636.1 82.8z" fill="#000"/><path d="M571.4 89.4L576.6 94.6L571.4 99.8L566.2 94.6z" fill="#000"/><path d="M583.0 95.4L588.2 100.6L583.0 105.8L577.8 100.6z" fill="#000"/><path d="M593.2 98.7L598.4 103.9L593.2 109.1L588.0 103.9z" fill="#000"/><path d="M553.4 100.9L558.6 106.1L553.4 111.3L548.2 106.1z" fill="#000"/><path d="M565.1 117.1L570.3 122.3L565.1 127.5L559.9 122.3z" fill="#000"/><path d="M577.5 124.1L582.7 129.3L577.5 134.5L572.3 129.3z" fill="#000"/><path d="M573.8 138.2L579.0 143.4L573.8 148.6L568.6 143.4z" fill="#000"/><path d="M576.9 143.0L582.1 148.2L576.9 153.4L571.7 148.2z" fill="#000"/><path d="M651.3 44.1L656.5 49.3L651.3 54.5L646.1 49.3z" fill="#000"/><path d="M664.6 42.8L669.8 48.0L664.6 53.2L659.4 48.0z" fill="#000"/><path d="M667.2 42.2L672.4 47.4L667.2 52.6L662.0 47.4z" fill="#000"/><path d="M673.5 44.1L678.7 49.3L673.5 54.5L668.3 49.3z" fill="#000"/><path d="M674.8 48.1L680.0 53.3L674.8 58.5L669.6 53.3z" fill="#000"/><path d="M686.9 44.3L692.1 49.5L686.9 54.7L681.7 49.5z" fill="#000"/><path d="M688.8 44.3L694.0 49.5L688.8 54.7L683.6 49.5z" fill="#000"/><path d="M706.0 48.1L711.2 53.3L706.0 58.5L700.8 53.3z" fill="#000"/><path d="M712.4 48.1L717.6 53.3L712.4 58.5L707.2 53.3z" fill="#000"/><path d="M719.7 47.9L724.9 53.1L719.7 58.3L714.5 53.1z" fill="#000"/><path d="M732.1 47.9L737.3 53.1L732.1 58.3L726.9 53.1z" fill="#000"/><path d="M761.7 52.4L766.9 57.6L761.7 62.8L756.5 57.6z" fill="#000"/><path d="M662.1 54.3L667.3 59.5L662.1 64.7L656.9 59.5z" fill="#000"/><path d="M653.8 61.2L659.0 66.4L653.8 71.6L648.6 66.4z" fill="#000"/><path d="M665.9 61.9L671.1 67.1L665.9 72.3L660.7 67.1z" fill="#000"/><path d="M686.3 66.7L691.5 71.9L686.3 77.1L681.1 71.9z" fill="#000"/><path d="M703.4 66.7L708.6 71.9L703.4 77.1L698.2 71.9z" fill="#000"/><path d="M696.4 75.0L701.6 80.2L696.4 85.4L691.2 80.2z" fill="#000"/><path d="M712.4 75.0L717.6 80.2L712.4 85.4L707.2 80.2z" fill="#000"/><path d="M737.2 67.0L742.4 72.2L737.2 77.4L732.0 72.2z" fill="#000"/><path d="M662.1 77.2L667.3 82.4L662.1 87.6L656.9 82.4z" fill="#000"/><path d="M666.5 83.8L671.7 89.0L666.5 94.2L661.3 89.0z" fill="#000"/><path d="M684.4 109.2L689.6 114.4L684.4 119.6L679.2 114.4z" fill="#000"/><path d="M674.6 138.5L679.8 143.7L674.6 148.9L669.4 143.7z" fill="#000"/><path d="M651.2 202.8L656.4 208.0L651.2 213.2L646.0 208.0z" fill="#000"/><path d="M587.6 261.3L592.8 266.5L587.6 271.7L582.4 266.5z" fill="#000"/><path d="M784.3 52.5L789.5 57.7L784.3 62.9L779.1 57.7z" fill="#000"/><path d="M815.9 52.5L821.1 57.7L815.9 62.9L810.7 57.7z" fill="#000"/><path d="M855.2 52.5L860.4 57.7L855.2 62.9L850.0 57.7z" fill="#000"/><path d="M790.7 74.6L795.9 79.8L790.7 85.0L785.5 79.8z" fill="#000"/><path d="M797.8 84.7L803.0 89.9L797.8 95.1L792.6 89.9z" fill="#000"/></g>
<rect x="545.8" y="30.8" width="389.5" height="295.5" fill="none" stroke="#303030" stroke-width="1.6"/>
<path d="M545.8 60.2h5.2M545.8 89.7h5.2M545.8 119.1h5.2M545.8 148.6h5.2M545.8 178.0h5.2M545.8 207.4h5.2M545.8 236.9h5.2M545.8 266.4h5.2M545.8 295.8h5.2M623.3 326.3v-5.2M701.3 326.3v-5.2M779.3 326.3v-5.2M857.3 326.3v-5.2" stroke="#303030" stroke-width="1.3" fill="none"/>
<text x="744.3" y="19.1" text-anchor="middle">Thigh &amp; Ankle</text>
<text x="509.8" y="26.3" font-weight="bold">(d)</text>
</g>
<g id="panel-e">
<g><path d="M557.7 369.1L562.9 374.3L557.7 379.5L552.5 374.3z" fill="#000"/><path d="M562.8 372.5L568.0 377.7L562.8 382.9L557.6 377.7z" fill="#000"/><path d="M566.2 371.7L571.4 376.9L566.2 382.1L561.0 376.9z" fill="#000"/><path d="M573.0 372.5L578.2 377.7L573.0 382.9L567.8 377.7z" fill="#000"/><path d="M577.7 372.5L582.9 377.7L577.7 382.9L572.5 377.7z" fill="#000"/><path d="M564.5 377.6L569.7 382.8L564.5 388.0L559.3 382.8z" fill="#000"/><path d="M570.4 377.6L575.6 382.8L570.4 388.0L565.2 382.8z" fill="#000"/><path d="M559.4 381.9L564.6 387.1L559.4 392.3L554.2 387.1z" fill="#000"/><path d="M567.9 382.7L573.1 387.9L567.9 393.1L562.7 387.9z" fill="#000"/><path d="M573.0 381.9L578.2 387.1L573.0 392.3L567.8 387.1z" fill="#000"/><path d="M580.6 380.2L585.8 385.4L580.6 390.6L575.4 385.4z" fill="#000"/><path d="M580.6 383.1L585.8 388.3L580.6 393.5L575.4 388.3z" fill="#000"/><path d="M557.7 385.7L562.9 390.9L557.7 396.1L552.5 390.9z" fill="#000"/><path d="M569.6 386.9L574.8 392.1L569.6 397.3L564.4 392.1z" fill="#000"/><path d="M559.4 389.5L564.6 394.7L559.4 399.9L554.2 394.7z" fill="#000"/><path d="M567.1 390.3L572.3 395.5L567.1 400.7L561.9 395.5z" fill="#000"/><path d="M563.2 392.5L568.4 397.7L563.2 402.9L558.0 397.7z" fill="#000"/><path d="M578.1 395.0L583.3 400.2L578.1 405.4L572.9 400.2z" fill="#000"/><path d="M588.7 389.9L593.9 395.1L588.7 400.3L583.5 395.1z" fill="#000"/><path d="M611.6 392.5L616.8 397.7L611.6 402.9L606.4 397.7z" fill="#000"/><path d="M554.3 410.7L559.5 415.9L554.3 421.1L549.1 415.9z" fill="#000"/><path d="M567.9 416.6L573.1 421.8L567.9 427.0L562.7 421.8z" fill="#000"/><path d="M573.0 415.8L578.2 421.0L573.0 426.2L567.8 421.0z" fill="#000"/><path d="M586.1 415.4L591.3 420.6L586.1 425.8L580.9 420.6z" fill="#000"/><path d="M615.4 413.7L620.6 418.9L615.4 424.1L610.2 418.9z" fill="#000"/><path d="M555.2 372.5L560.4 377.7L555.2 382.9L550.0 377.7z" fill="#000"/><path d="M561.1 376.8L566.3 382.0L561.1 387.2L555.9 382.0z" fill="#000"/><path d="M556.0 384.4L561.2 389.6L556.0 394.8L550.8 389.6z" fill="#000"/><path d="M562.0 385.2L567.2 390.4L562.0 395.6L556.8 390.4z" fill="#000"/><path d="M573.8 376.8L579.0 382.0L573.8 387.2L568.6 382.0z" fill="#000"/><path d="M565.4 387.8L570.6 393.0L565.4 398.2L560.2 393.0z" fill="#000"/><path d="M572.1 386.9L577.3 392.1L572.1 397.3L566.9 392.1z" fill="#000"/><path d="M647.1 377.1L652.3 382.3L647.1 387.5L641.9 382.3z" fill="#000"/><path d="M664.1 377.5L669.3 382.7L664.1 387.9L658.9 382.7z" fill="#000"/><path d="M688.7 381.4L693.9 386.6L688.7 391.8L683.5 386.6z" fill="#000"/><path d="M631.9 394.6L637.1 399.8L631.9 405.0L626.7 399.8z" fill="#000"/><path d="M645.4 392.9L650.6 398.1L645.4 403.3L640.2 398.1z" fill="#000"/><path d="M661.6 392.5L666.8 397.7L661.6 402.9L656.4 397.7z" fill="#000"/><path d="M678.5 394.6L683.7 399.8L678.5 405.0L673.3 399.8z" fill="#000"/><path d="M655.6 398.0L660.8 403.2L655.6 408.4L650.4 403.2z" fill="#000"/><path d="M665.8 398.4L671.0 403.6L665.8 408.8L660.6 403.6z" fill="#000"/><path d="M657.3 403.1L662.5 408.3L657.3 413.5L652.1 408.3z" fill="#000"/><path d="M687.4 403.9L692.6 409.1L687.4 414.3L682.2 409.1z" fill="#000"/><path d="M696.3 410.7L701.5 415.9L696.3 421.1L691.1 415.9z" fill="#000"/><path d="M638.7 413.2L643.9 418.4L638.7 423.6L633.5 418.4z" fill="#000"/><path d="M648.8 413.2L654.0 418.4L648.8 423.6L643.6 418.4z" fill="#000"/><path d="M668.3 413.7L673.5 418.9L668.3 424.1L663.1 418.9z" fill="#000"/><path d="M665.8 418.3L671.0 423.5L665.8 428.7L660.6 423.5z" fill="#000"/><path d="M642.9 419.2L648.1 424.4L642.9 429.6L637.7 424.4z" fill="#000"/><path d="M629.3 415.8L634.5 421.0L629.3 426.2L624.1 421.0z" fill="#000"/><path d="M688.7 419.2L693.9 424.4L688.7 429.6L683.5 424.4z" fill="#000"/><path d="M706.6 384.4L711.8 389.6L706.6 394.8L701.4 389.6z" fill="#000"/><path d="M712.4 384.4L717.6 389.6L712.4 394.8L707.2 389.6z" fill="#000"/><path d="M719.7 384.4L724.9 389.6L719.7 394.8L714.5 389.6z" fill="#000"/><path d="M732.1 384.4L737.3 389.6L732.1 394.8L726.9 389.6z" fill="#000"/><path d="M761.7 388.6L766.9 393.8L761.7 399.0L756.5 393.8z" fill="#000"/><path d="M703.4 403.9L708.6 409.1L703.4 414.3L698.2 409.1z" fill="#000"/><path d="M696.4 410.9L701.6 416.1L696.4 421.3L691.2 416.1z" fill="#000"/><path d="M712.4 410.9L717.6 416.1L712.4 421.3L707.2 416.1z" fill="#000"/><path d="M737.6 403.9L742.8 409.1L737.6 414.3L732.4 409.1z" fill="#000"/><path d="M751.2 411.1L756.4 416.3L751.2 421.5L746.0 416.3z" fill="#000"/><path d="M554.6 410.9L559.8 416.1L554.6 421.3L549.4 416.1z" fill="#000"/><path d="M568.6 416.8L573.8 422.0L568.6 427.2L563.4 422.0z" fill="#000"/><path d="M573.7 415.7L578.9 420.9L573.7 426.1L568.5 420.9z" fill="#000"/><path d="M574.4 421.3L579.6 426.5L574.4 431.7L569.2 426.5z" fill="#000"/><path d="M586.1 415.3L591.3 420.5L586.1 425.7L580.9 420.5z" fill="#000"/><path d="M562.9 423.8L568.1 429.0L562.9 434.2L557.7 429.0z" fill="#000"/><path d="M582.6 426.3L587.8 431.5L582.6 436.7L577.4 431.5z" fill="#000"/><path d="M557.2 430.2L562.4 435.4L557.2 440.6L552.0 435.4z" fill="#000"/><path d="M574.4 430.2L579.6 435.4L574.4 440.6L569.2 435.4z" fill="#000"/><path d="M583.5 432.7L588.7 437.9L583.5 443.1L578.3 437.9z" fill="#000"/><path d="M576.9 441.0L582.1 446.2L576.9 451.4L571.7 446.2z" fill="#000"/><path d="M588.7 450.5L593.9 455.7L588.7 460.9L583.5 455.7z" fill="#000"/><path d="M565.5 454.1L570.7 459.3L565.5 464.5L560.3 459.3z" fill="#000"/><path d="M593.4 461.0L598.6 466.2L593.4 471.4L588.2 466.2z" fill="#000"/><path d="M566.3 467.8L571.5 473.0L566.3 478.2L561.1 473.0z" fill="#000"/><path d="M615.5 414.0L620.7 419.2L615.5 424.4L610.3 419.2z" fill="#000"/><path d="M629.1 414.3L634.3 419.5L629.1 424.7L623.9 419.5z" fill="#000"/><path d="M638.6 413.4L643.8 418.6L638.6 423.8L633.4 418.6z" fill="#000"/><path d="M648.8 413.4L654.0 418.6L648.8 423.8L643.6 418.6z" fill="#000"/><path d="M642.8 421.5L648.0 426.7L642.8 431.9L637.6 426.7z" fill="#000"/><path d="M657.1 439.7L662.3 444.9L657.1 450.1L651.9 444.9z" fill="#000"/><path d="M651.7 461.0L656.9 466.2L651.7 471.4L646.5 466.2z" fill="#000"/><path d="M668.5 413.3L673.7 418.5L668.5 423.7L663.3 418.5z" fill="#000"/><path d="M662.1 421.5L667.3 426.7L662.1 431.9L656.9 426.7z" fill="#000"/><path d="M667.2 421.5L672.4 426.7L667.2 431.9L662.0 426.7z" fill="#000"/><path d="M689.7 421.5L694.9 426.7L689.7 431.9L684.5 426.7z" fill="#000"/><path d="M674.8 430.2L680.0 435.4L674.8 440.6L669.6 435.4z" fill="#000"/><path d="M736.8 446.3L742.0 451.5L736.8 456.7L731.6 451.5z" fill="#000"/><path d="M553.5 485.9L558.7 491.1L553.5 496.3L548.3 491.1z" fill="#000"/><path d="M571.6 581.4L576.8 586.6L571.6 591.8L566.4 586.6z" fill="#000"/><path d="M784.3 388.7L789.5 393.9L784.3 399.1L779.1 393.9z" fill="#000"/><path d="M815.7 388.7L820.9 393.9L815.7 399.1L810.5 393.9z" fill="#000"/><path d="M854.8 388.7L860.0 393.9L854.8 399.1L849.6 393.9z" fill="#000"/><path d="M864.9 391.7L870.1 396.9L864.9 402.1L859.7 396.9z" fill="#000"/><path d="M888.2 411.3L893.4 416.5L888.2 421.7L883.0 416.5z" fill="#000"/><path d="M790.3 461.0L795.5 466.2L790.3 471.4L785.1 466.2z" fill="#000"/><path d="M916.8 461.0L922.0 466.2L916.8 471.4L911.6 466.2z" fill="#000"/><path d="M645.6 392.4L650.8 397.6L645.6 402.8L640.4 397.6z" fill="#000"/><path d="M657.1 400.7L662.3 405.9L657.1 411.1L651.9 405.9z" fill="#000"/><path d="M654.5 403.9L659.7 409.1L654.5 414.3L649.3 409.1z" fill="#000"/></g>
<g><path d="M584.4 372.5L589.6 377.7L584.4 382.9L579.2 377.7z" fill="#808080"/><path d="M590.8 374.6L596.0 379.8L590.8 385.0L585.6 379.8z" fill="#808080"/><path d="M596.7 374.6L601.9 379.8L596.7 385.0L591.5 379.8z" fill="#808080"/><path d="M602.7 375.5L607.9 380.7L602.7 385.9L597.5 380.7z" fill="#808080"/><path d="M608.6 375.9L613.8 381.1L608.6 386.3L603.4 381.1z" fill="#808080"/><path d="M614.6 376.3L619.8 381.5L614.6 386.7L609.4 381.5z" fill="#808080"/><path d="M620.5 376.8L625.7 382.0L620.5 387.2L615.3 382.0z" fill="#808080"/><path d="M624.7 376.8L629.9 382.0L624.7 387.2L619.5 382.0z" fill="#808080"/><path d="M592.5 381.0L597.7 386.2L592.5 391.4L587.3 386.2z" fill="#808080"/><path d="M598.4 381.4L603.6 386.6L598.4 391.8L593.2 386.6z" fill="#808080"/><path d="M604.4 381.9L609.6 387.1L604.4 392.3L599.2 387.1z" fill="#808080"/><path d="M610.3 382.3L615.5 387.5L610.3 392.7L605.1 387.5z" fill="#808080"/><path d="M616.2 382.7L621.4 387.9L616.2 393.1L611.0 387.9z" fill="#808080"/><path d="M622.2 383.1L627.4 388.3L622.2 393.5L617.0 388.3z" fill="#808080"/><path d="M595.9 386.9L601.1 392.1L595.9 397.3L590.7 392.1z" fill="#808080"/><path d="M601.8 387.8L607.0 393.0L601.8 398.2L596.6 393.0z" fill="#808080"/><path d="M607.8 388.2L613.0 393.4L607.8 398.6L602.6 393.4z" fill="#808080"/><path d="M617.9 388.6L623.1 393.8L617.9 399.0L612.7 393.8z" fill="#808080"/><path d="M623.9 389.5L629.1 394.7L623.9 399.9L618.7 394.7z" fill="#808080"/><path d="M600.1 392.9L605.3 398.1L600.1 403.3L594.9 398.1z" fill="#808080"/><path d="M606.1 394.6L611.3 399.8L606.1 405.0L600.9 399.8z" fill="#808080"/><path d="M608.2 398.0L613.4 403.2L608.2 408.4L603.0 403.2z" fill="#808080"/><path d="M616.2 394.6L621.4 399.8L616.2 405.0L611.0 399.8z" fill="#808080"/><path d="M619.6 397.1L624.8 402.3L619.6 407.5L614.4 402.3z" fill="#808080"/><path d="M623.9 399.7L629.1 404.9L623.9 410.1L618.7 404.9z" fill="#808080"/><path d="M589.1 391.2L594.3 396.4L589.1 401.6L583.9 396.4z" fill="#808080"/><path d="M624.7 414.1L629.9 419.3L624.7 424.5L619.5 419.3z" fill="#808080"/><path d="M587.4 376.8L592.6 382.0L587.4 387.2L582.2 382.0z" fill="#808080"/><path d="M595.0 378.5L600.2 383.7L595.0 388.9L589.8 383.7z" fill="#808080"/><path d="M623.4 375.9L628.6 381.1L623.4 386.3L618.2 381.1z" fill="#808080"/><path d="M629.3 375.5L634.5 380.7L629.3 385.9L624.1 380.7z" fill="#808080"/><path d="M635.3 378.5L640.5 383.7L635.3 388.9L630.1 383.7z" fill="#808080"/><path d="M641.2 379.3L646.4 384.5L641.2 389.7L636.0 384.5z" fill="#808080"/><path d="M647.1 379.7L652.3 384.9L647.1 390.1L641.9 384.9z" fill="#808080"/><path d="M653.1 379.7L658.3 384.9L653.1 390.1L647.9 384.9z" fill="#808080"/><path d="M659.0 381.0L664.2 386.2L659.0 391.4L653.8 386.2z" fill="#808080"/><path d="M665.0 382.3L670.2 387.5L665.0 392.7L659.8 387.5z" fill="#808080"/><path d="M670.9 382.3L676.1 387.5L670.9 392.7L665.7 387.5z" fill="#808080"/><path d="M676.8 381.9L682.0 387.1L676.8 392.3L671.6 387.1z" fill="#808080"/><path d="M682.8 382.3L688.0 387.5L682.8 392.7L677.6 387.5z" fill="#808080"/><path d="M623.4 382.7L628.6 387.9L623.4 393.1L618.2 387.9z" fill="#808080"/><path d="M629.3 382.7L634.5 387.9L629.3 393.1L624.1 387.9z" fill="#808080"/><path d="M635.3 384.0L640.5 389.2L635.3 394.4L630.1 389.2z" fill="#808080"/><path d="M641.2 384.4L646.4 389.6L641.2 394.8L636.0 389.6z" fill="#808080"/><path d="M647.1 384.8L652.3 390.0L647.1 395.2L641.9 390.0z" fill="#808080"/><path d="M653.1 384.4L658.3 389.6L653.1 394.8L647.9 389.6z" fill="#808080"/><path d="M659.0 386.1L664.2 391.3L659.0 396.5L653.8 391.3z" fill="#808080"/><path d="M665.0 386.9L670.2 392.1L665.0 397.3L659.8 392.1z" fill="#808080"/><path d="M670.9 387.8L676.1 393.0L670.9 398.2L665.7 393.0z" fill="#808080"/><path d="M676.8 388.6L682.0 393.8L676.8 399.0L671.6 393.8z" fill="#808080"/><path d="M682.8 388.6L688.0 393.8L682.8 399.0L677.6 393.8z" fill="#808080"/><path d="M623.4 393.7L628.6 398.9L623.4 404.1L618.2 398.9z" fill="#808080"/><path d="M625.9 399.7L631.1 404.9L625.9 410.1L620.7 404.9z" fill="#808080"/><path d="M628.5 404.8L633.7 410.0L628.5 415.2L623.3 410.0z" fill="#808080"/><path d="M626.8 411.5L632.0 416.7L626.8 421.9L621.6 416.7z" fill="#808080"/><path d="M623.4 414.1L628.6 419.3L623.4 424.5L618.2 419.3z" fill="#808080"/><path d="M639.5 393.7L644.7 398.9L639.5 404.1L634.3 398.9z" fill="#808080"/><path d="M641.2 398.0L646.4 403.2L641.2 408.4L636.0 403.2z" fill="#808080"/><path d="M646.3 398.8L651.5 404.0L646.3 409.2L641.1 404.0z" fill="#808080"/><path d="M649.7 399.7L654.9 404.9L649.7 410.1L644.5 404.9z" fill="#808080"/><path d="M638.7 388.6L643.9 393.8L638.7 399.0L633.5 393.8z" fill="#808080"/><path d="M675.6 403.9L680.8 409.1L675.6 414.3L670.4 409.1z" fill="#808080"/><path d="M661.6 410.7L666.8 415.9L661.6 421.1L656.4 415.9z" fill="#808080"/><path d="M682.8 418.3L688.0 423.5L682.8 428.7L677.6 423.5z" fill="#808080"/><path d="M620.4 387.8L625.6 393.0L620.4 398.2L615.2 393.0z" fill="#808080"/><path d="M620.0 379.3L625.2 384.5L620.0 389.7L614.8 384.5z" fill="#808080"/><path d="M655.8 484.1L661.0 489.3L655.8 494.5L650.6 489.3z" fill="#808080"/><path d="M682.8 421.5L688.0 426.7L682.8 431.9L677.6 426.7z" fill="#808080"/></g>
<rect x="545.8" y="366.5" width="389.1" height="294.8" fill="none" stroke="#303030" stroke-width="1.6"/>
<path d="M545.8 396.4h5.2M545.8 426.1h5.2M545.8 455.7h5.2M545.8 485.4h5.2M545.8 515.1h5.2M545.8 544.8h5.2M545.8 574.4h5.2M545.8 604.1h5.2M545.8 633.8h5.2M622.9 661.3v-5.2M700.9 661.3v-5.2M778.9 661.3v-5.2M856.9 661.3v-5.2" stroke="#303030" stroke-width="1.3" fill="none"/>
<text x="741.5" y="355.6" text-anchor="middle">Waist &amp; Ankle</text>
<text x="512.4" y="362.9" font-weight="bold">(e)</text>
</g>
<g id="panel-f">
<g><path d="M565.2 700.8L570.4 706.0L565.2 711.2L560.0 706.0z" fill="#000"/><path d="M592.8 703.6L598.0 708.8L592.8 714.0L587.6 708.8z" fill="#000"/><path d="M609.7 709.1L614.9 714.3L609.7 719.5L604.5 714.3z" fill="#000"/><path d="M619.5 708.1L624.7 713.3L619.5 718.5L614.3 713.3z" fill="#000"/><path d="M624.0 708.4L629.2 713.6L624.0 718.8L618.8 713.6z" fill="#000"/><path d="M629.1 709.1L634.3 714.3L629.1 719.5L623.9 714.3z" fill="#000"/><path d="M632.9 711.0L638.1 716.2L632.9 721.4L627.7 716.2z" fill="#000"/><path d="M638.0 708.4L643.2 713.6L638.0 718.8L632.8 713.6z" fill="#000"/><path d="M643.1 708.1L648.3 713.3L643.1 718.5L637.9 713.3z" fill="#000"/><path d="M648.2 709.1L653.4 714.3L648.2 719.5L643.0 714.3z" fill="#000"/><path d="M652.0 711.0L657.2 716.2L652.0 721.4L646.8 716.2z" fill="#000"/><path d="M573.7 713.5L578.9 718.7L573.7 723.9L568.5 718.7z" fill="#000"/><path d="M571.2 717.3L576.4 722.5L571.2 727.7L566.0 722.5z" fill="#000"/><path d="M557.8 718.0L563.0 723.2L557.8 728.4L552.6 723.2z" fill="#000"/><path d="M585.2 716.1L590.4 721.3L585.2 726.5L580.0 721.3z" fill="#000"/><path d="M582.0 718.0L587.2 723.2L582.0 728.4L576.8 723.2z" fill="#000"/><path d="M586.4 718.0L591.6 723.2L586.4 728.4L581.2 723.2z" fill="#000"/><path d="M621.4 720.5L626.6 725.7L621.4 730.9L616.2 725.7z" fill="#000"/><path d="M615.1 726.3L620.3 731.5L615.1 736.7L609.9 731.5z" fill="#000"/><path d="M641.8 720.5L647.0 725.7L641.8 730.9L636.6 725.7z" fill="#000"/><path d="M645.6 725.0L650.8 730.2L645.6 735.4L640.4 730.2z" fill="#000"/><path d="M649.4 730.7L654.6 735.9L649.4 741.1L644.2 735.9z" fill="#000"/><path d="M654.5 728.2L659.7 733.4L654.5 738.6L649.3 733.4z" fill="#000"/><path d="M657.7 738.3L662.9 743.5L657.7 748.7L652.5 743.5z" fill="#000"/><path d="M577.5 724.3L582.7 729.5L577.5 734.7L572.3 729.5z" fill="#000"/><path d="M566.1 725.0L571.3 730.2L566.1 735.4L560.9 730.2z" fill="#000"/><path d="M557.2 728.2L562.4 733.4L557.2 738.6L552.0 733.4z" fill="#000"/><path d="M566.1 733.9L571.3 739.1L566.1 744.3L560.9 739.1z" fill="#000"/><path d="M583.3 733.9L588.5 739.1L583.3 744.3L578.1 739.1z" fill="#000"/><path d="M559.7 739.6L564.9 744.8L559.7 750.0L554.5 744.8z" fill="#000"/><path d="M572.5 740.0L577.7 745.2L572.5 750.4L567.3 745.2z" fill="#000"/><path d="M576.3 742.2L581.5 747.4L576.3 752.6L571.1 747.4z" fill="#000"/><path d="M580.1 744.7L585.3 749.9L580.1 755.1L574.9 749.9z" fill="#000"/><path d="M553.4 750.0L558.6 755.2L553.4 760.4L548.2 755.2z" fill="#000"/><path d="M565.2 756.3L570.4 761.5L565.2 766.7L560.0 761.5z" fill="#000"/><path d="M554.4 765.9L559.6 771.1L554.4 776.3L549.2 771.1z" fill="#000"/><path d="M573.3 779.9L578.5 785.1L573.3 790.3L568.1 785.1z" fill="#000"/><path d="M569.9 783.1L575.1 788.3L569.9 793.5L564.7 788.3z" fill="#000"/><path d="M562.6 801.3L567.8 806.5L562.6 811.7L557.4 806.5z" fill="#000"/><path d="M576.9 810.0L582.1 815.2L576.9 820.4L571.7 815.2z" fill="#000"/><path d="M587.7 810.0L592.9 815.2L587.7 820.4L582.5 815.2z" fill="#000"/><path d="M588.4 825.9L593.6 831.1L588.4 836.3L583.2 831.1z" fill="#000"/><path d="M567.5 821.5L572.7 826.7L567.5 831.9L562.3 826.7z" fill="#000"/><path d="M561.6 824.1L566.8 829.3L561.6 834.5L556.4 829.3z" fill="#000"/><path d="M557.1 828.7L562.3 833.9L557.1 839.1L551.9 833.9z" fill="#000"/><path d="M567.0 847.2L572.2 852.4L567.0 857.6L561.8 852.4z" fill="#000"/><path d="M651.3 711.0L656.5 716.2L651.3 721.4L646.1 716.2z" fill="#000"/><path d="M661.7 706.5L666.9 711.7L661.7 716.9L656.5 711.7z" fill="#000"/><path d="M665.9 710.3L671.1 715.5L665.9 720.7L660.7 715.5z" fill="#000"/><path d="M677.7 708.1L682.9 713.3L677.7 718.5L672.5 713.3z" fill="#000"/><path d="M685.0 712.3L690.2 717.5L685.0 722.7L679.8 717.5z" fill="#000"/><path d="M688.2 712.3L693.4 717.5L688.2 722.7L683.0 717.5z" fill="#000"/><path d="M706.0 714.2L711.2 719.4L706.0 724.6L700.8 719.4z" fill="#000"/><path d="M711.7 716.3L716.9 721.5L711.7 726.7L706.5 721.5z" fill="#000"/><path d="M720.0 715.8L725.2 721.0L720.0 726.2L714.8 721.0z" fill="#000"/><path d="M731.2 714.4L736.4 719.6L731.2 724.8L726.0 719.6z" fill="#000"/><path d="M737.6 712.3L742.8 717.5L737.6 722.7L732.4 717.5z" fill="#000"/><path d="M750.7 715.9L755.9 721.1L750.7 726.3L745.5 721.1z" fill="#000"/><path d="M653.2 728.8L658.4 734.0L653.2 739.2L648.0 734.0z" fill="#000"/><path d="M664.6 726.3L669.8 731.5L664.6 736.7L659.4 731.5z" fill="#000"/><path d="M667.2 726.3L672.4 731.5L667.2 736.7L662.0 731.5z" fill="#000"/><path d="M688.8 731.3L694.0 736.5L688.8 741.7L683.6 736.5z" fill="#000"/><path d="M712.0 737.4L717.2 742.6L712.0 747.8L706.8 742.6z" fill="#000"/><path d="M674.4 759.8L679.6 765.0L674.4 770.2L669.2 765.0z" fill="#000"/><path d="M665.5 766.1L670.7 771.3L665.5 776.5L660.3 771.3z" fill="#000"/><path d="M702.8 755.5L708.0 760.7L702.8 765.9L697.6 760.7z" fill="#000"/><path d="M695.8 765.9L701.0 771.1L695.8 776.3L690.6 771.1z" fill="#000"/><path d="M711.1 765.9L716.3 771.1L711.1 776.3L705.9 771.1z" fill="#000"/><path d="M674.4 783.3L679.6 788.5L674.4 793.7L669.2 788.5z" fill="#000"/><path d="M789.9 716.1L795.1 721.3L789.9 726.5L784.7 721.3z" fill="#000"/><path d="M854.4 718.5L859.6 723.7L854.4 728.9L849.2 723.7z" fill="#000"/><path d="M887.6 716.1L892.8 721.3L887.6 726.5L882.4 721.3z" fill="#000"/><path d="M916.2 716.1L921.4 721.3L916.2 726.5L911.0 721.3z" fill="#000"/><path d="M815.1 745.3L820.3 750.5L815.1 755.7L809.9 750.5z" fill="#000"/><path d="M783.6 773.1L788.8 778.3L783.6 783.5L778.4 778.3z" fill="#000"/></g>
<rect x="545.8" y="696.5" width="388.8" height="294.9" fill="none" stroke="#303030" stroke-width="1.6"/>
<path d="M545.8 726.4h5.2M545.8 756.1h5.2M545.8 785.7h5.2M545.8 815.4h5.2M545.8 845.1h5.2M545.8 874.8h5.2M545.8 904.4h5.2M545.8 934.1h5.2M545.8 963.8h5.2M622.6 991.4v-5.2M700.6 991.4v-5.2M778.6 991.4v-5.2M856.6 991.4v-5.2" stroke="#303030" stroke-width="1.3" fill="none"/>
<text x="743.5" y="685.2" text-anchor="middle">Waist &amp; Thigh</text>
<text x="517" y="693.3" font-weight="bold">(f)</text>
<text x="547.8" y="1017.4" text-anchor="middle">0</text>
<text x="622.9" y="1017.4" text-anchor="middle">1</text>
<text x="700.9" y="1017.4" text-anchor="middle">2</text>
<text x="778.9" y="1017.4" text-anchor="middle">3</text>
<text x="856.9" y="1017.4" text-anchor="middle">4</text>
<text x="936.4" y="1017.4" text-anchor="middle">5</text>
<text x="740.8" y="1042.9" text-anchor="middle" letter-spacing="0.28">Gait Velocity (m/s)</text>
</g>
</svg></body></html>
